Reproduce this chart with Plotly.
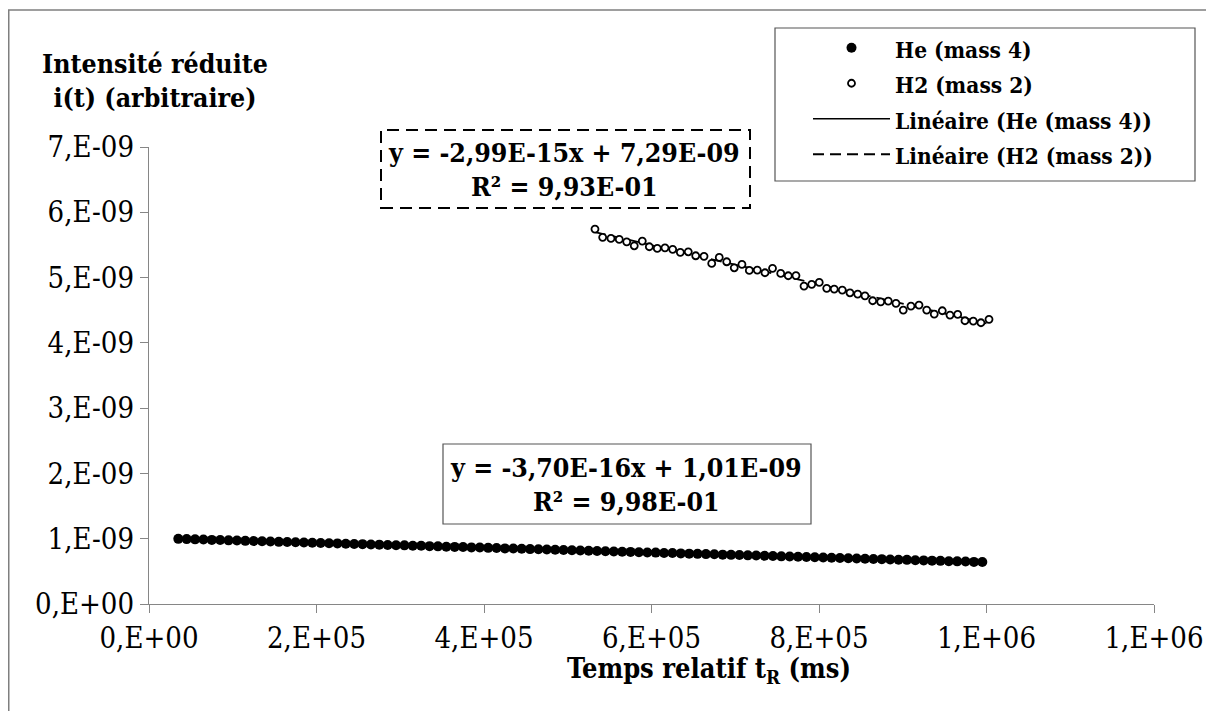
import plotly.graph_objects as go

# ---------------- data ----------------
he_x = [35000, 45000, 55000, 65000, 75000, 85000, 95000, 105000, 115000, 125000,
        135000, 145000, 155000, 165000, 175000, 185000, 195000, 205000, 215000, 225000,
        235000, 245000, 255000, 265000, 275000, 285000, 295000, 305000, 315000, 325000,
        335000, 345000, 355000, 365000, 375000, 385000, 395000, 405000, 415000, 425000,
        435000, 445000, 455000, 465000, 475000, 485000, 495000, 505000, 515000, 525000,
        535000, 545000, 555000, 565000, 575000, 585000, 595000, 605000, 615000, 625000,
        635000, 645000, 655000, 665000, 675000, 685000, 695000, 705000, 715000, 725000,
        735000, 745000, 755000, 765000, 775000, 785000, 795000, 805000, 815000, 825000,
        835000, 845000, 855000, 865000, 875000, 885000, 895000, 905000, 915000, 925000,
        935000, 945000, 955000, 965000, 975000, 985000, 995000]
he_y = [0.998e-9, 0.994e-9, 0.990e-9, 0.987e-9, 0.982e-9, 0.980e-9, 0.975e-9, 0.972e-9, 0.967e-9, 0.965e-9,
        0.960e-9, 0.957e-9, 0.952e-9, 0.949e-9, 0.946e-9, 0.941e-9, 0.938e-9, 0.935e-9, 0.930e-9, 0.928e-9,
        0.923e-9, 0.919e-9, 0.917e-9, 0.912e-9, 0.909e-9, 0.904e-9, 0.901e-9, 0.898e-9, 0.893e-9, 0.891e-9,
        0.886e-9, 0.883e-9, 0.878e-9, 0.875e-9, 0.872e-9, 0.867e-9, 0.865e-9, 0.860e-9, 0.857e-9, 0.852e-9,
        0.849e-9, 0.846e-9, 0.841e-9, 0.838e-9, 0.835e-9, 0.830e-9, 0.827e-9, 0.824e-9, 0.819e-9, 0.816e-9,
        0.812e-9, 0.809e-9, 0.804e-9, 0.801e-9, 0.798e-9, 0.793e-9, 0.790e-9, 0.787e-9, 0.782e-9, 0.780e-9,
        0.775e-9, 0.771e-9, 0.768e-9, 0.764e-9, 0.761e-9, 0.756e-9, 0.753e-9, 0.750e-9, 0.745e-9, 0.742e-9,
        0.738e-9, 0.735e-9, 0.730e-9, 0.727e-9, 0.724e-9, 0.719e-9, 0.716e-9, 0.713e-9, 0.708e-9, 0.705e-9,
        0.701e-9, 0.698e-9, 0.693e-9, 0.690e-9, 0.687e-9, 0.682e-9, 0.679e-9, 0.676e-9, 0.671e-9, 0.668e-9,
        0.664e-9, 0.661e-9, 0.656e-9, 0.653e-9, 0.650e-9, 0.645e-9, 0.643e-9]

h2_x = [532500, 541700, 551600, 561500, 570400, 579400, 589000, 597400, 606900, 616100,
        625300, 634400, 643900, 652800, 662700, 671900, 680900, 689800, 698800, 708000,
        716800, 726300, 735500, 744500, 754300, 763300, 772500, 782100, 791300, 800300,
        809200, 818200, 827800, 837000, 846200, 854900, 864100, 873700, 882700, 891900,
        900600, 909800, 919400, 928600, 937600, 947200, 956400, 965600, 974300, 984200,
        993400, 1003000]
h2_y = [5.743e-9, 5.616e-9, 5.600e-9, 5.585e-9, 5.548e-9, 5.487e-9, 5.559e-9, 5.472e-9, 5.447e-9, 5.456e-9,
        5.432e-9, 5.386e-9, 5.395e-9, 5.334e-9, 5.325e-9, 5.217e-9, 5.309e-9, 5.242e-9, 5.150e-9, 5.202e-9,
        5.110e-9, 5.115e-9, 5.074e-9, 5.141e-9, 5.064e-9, 5.028e-9, 5.030e-9, 4.870e-9, 4.896e-9, 4.926e-9,
        4.835e-9, 4.824e-9, 4.809e-9, 4.767e-9, 4.747e-9, 4.721e-9, 4.645e-9, 4.629e-9, 4.640e-9, 4.605e-9,
        4.502e-9, 4.564e-9, 4.579e-9, 4.502e-9, 4.441e-9, 4.492e-9, 4.426e-9, 4.436e-9, 4.339e-9, 4.334e-9,
        4.308e-9, 4.360e-9]

# trendline coefficients (as displayed)
he_slope, he_intercept = -3.70e-16, 1.01e-9
h2_slope, h2_intercept = -2.99e-15, 7.29e-09

x_tickvals = [0, 200000, 400000, 600000, 800000, 1000000, 1200000]
x_ticktext = ["0,E+00", "2,E+05", "4,E+05", "6,E+05", "8,E+05", "1,E+06", "1,E+06"]
y_tickvals = [0, 1e-9, 2e-9, 3e-9, 4e-9, 5e-9, 6e-9, 7e-9]
y_ticktext = ["0,E+00", "1,E-09", "2,E-09", "3,E-09", "4,E-09", "5,E-09", "6,E-09", "7,E-09"]

he_eq = "y = -3,70E-16x + 1,01E-09<br>R² = 9,98E-01"
h2_eq = "y = -2,99E-15x + 7,29E-09<br>R² = 9,93E-01"

# ---------------- figure ----------------
W, H = 1214, 711
OFF = 8  # page body margin
L, T = 141, 139
pw, ph = 1005, 457
R, B = W - L - pw, H - T - ph


def px(xs):
    return (xs - OFF - L) / pw


def py(ys):
    return (T + ph - (ys - OFF)) / ph


FONT = "DejaVu Serif Condensed, DejaVu Serif"
LEG_TXT = 22.5


def leg(name):
    return f'<span style="font-size:{LEG_TXT}px"><b>{name}</b></span>'


he_fx = [min(he_x), max(he_x)]
he_fy = [he_slope * v + he_intercept for v in he_fx]
h2_fx = [min(h2_x), max(h2_x)]
h2_fy = [h2_slope * v + h2_intercept for v in h2_fx]

fig = go.Figure()
fig.add_trace(go.Scatter(x=he_fx, y=he_fy, mode="lines", name=leg("Linéaire (He (mass 4))"),
                         line=dict(color="black", width=1.5), legendrank=3))
fig.add_trace(go.Scatter(x=h2_fx, y=h2_fy, mode="lines", name=leg("Linéaire (H2 (mass 2))"),
                         line=dict(color="black", width=1.8, dash="11px,6px"), legendrank=4))
fig.add_trace(go.Scatter(x=he_x, y=he_y, mode="markers", name=leg("He (mass 4)"),
                         marker=dict(symbol="circle", size=10, color="black", line=dict(width=0)),
                         legendrank=1))
fig.add_trace(go.Scatter(x=h2_x, y=h2_y, mode="markers", name=leg("H2 (mass 2)"),
                         marker=dict(symbol="circle", size=7, color="white",
                                     line=dict(color="black", width=1.8)),
                         legendrank=2))

axis_common = dict(showline=True, linecolor="#868686", linewidth=1.3, ticks="outside",
                   ticklen=8, tickcolor="#868686", tickwidth=1.3, showgrid=False,
                   zeroline=False, tickfont=dict(family=FONT, size=29, color="black"))

fig.update_xaxes(range=[0, 1200000], tickvals=x_tickvals, ticktext=x_ticktext, **axis_common)
fig.update_yaxes(range=[0, 7e-9], tickvals=y_tickvals, ticktext=y_ticktext, **axis_common)

shapes = [
    # outer chart frame (cut by the window at right and bottom)
    dict(type="path", xref="paper", yref="paper",
         path=f"M {px(8.75)},{py(740)} L {px(8.75)},{py(10)} L {px(1240)},{py(10)}",
         line=dict(color="#7f7f7f", width=1.5)),
    # dashed box around H2 equation
    dict(type="rect", xref="paper", yref="paper", x0=px(381), x1=px(750), y0=py(208), y1=py(130),
         line=dict(color="black", width=2, dash="12px,7px"), fillcolor="white", layer="below"),
    # solid box around He equation
    dict(type="rect", xref="paper", yref="paper", x0=px(443), x1=px(811), y0=py(524), y1=py(444),
         line=dict(color="#555555", width=1.2), fillcolor="white", layer="below"),
    # legend frame
    dict(type="rect", xref="paper", yref="paper", x0=px(775), x1=px(1195), y0=py(181), y1=py(28),
         line=dict(color="#555555", width=1.2), fillcolor="white", layer="below"),
]

annotations = [
    dict(text="<b>Intensité réduite<br>i(t) (arbitraire)</b>", xref="paper", yref="paper",
         x=px(155), y=py(80), xanchor="center", yanchor="middle", showarrow=False,
         font=dict(family=FONT, size=26.5, color="black"), align="center"),
    dict(text="<b>Temps relatif t<sub>R</sub> (ms)</b>", xref="paper", yref="paper",
         x=px(709), y=py(670), xanchor="center", yanchor="middle", showarrow=False,
         font=dict(family=FONT, size=27, color="black")),
    dict(text=f"<b>{h2_eq}</b>", xref="paper", yref="paper", x=px(564), y=py(169),
         xanchor="center", yanchor="middle", showarrow=False, align="center",
         font=dict(family=FONT, size=26.5, color="black")),
    dict(text=f"<b>{he_eq}</b>", xref="paper", yref="paper", x=px(626), y=py(485),
         xanchor="center", yanchor="middle", showarrow=False, align="center",
         font=dict(family=FONT, size=26.5, color="black")),
]

fig.update_layout(
    width=W, height=H,
    margin=dict(l=L, r=R, t=T, b=B),
    paper_bgcolor="white", plot_bgcolor="white",
    shapes=shapes, annotations=annotations,
    legend=dict(x=px(808), y=py(25), xanchor="left", yanchor="top",
                borderwidth=0, bgcolor="rgba(0,0,0,0)",
                font=dict(family=FONT, size=25, color="black"),
                itemwidth=77, tracegroupgap=0),
    showlegend=True,
)

fig.write_html("out.html")
